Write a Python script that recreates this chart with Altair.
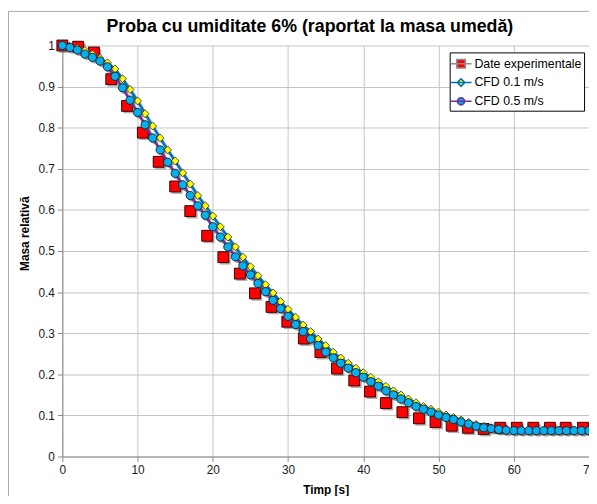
import altair as alt
import pandas as pd

# ---------------- data ----------------
series_names = ["Date experimentale", "CFD 0.1 m/s", "CFD 0.5 m/s"]

t_exp = [0, 2.1, 4.2, 6.5, 8.6, 10.7, 12.8, 15.0, 17.0, 19.25, 21.4, 23.6, 25.6,
         27.8, 29.9, 32.1, 34.3, 36.5, 38.8, 40.9, 43.0, 45.2, 47.4, 49.6, 51.75,
         53.9, 56.0, 58.2, 60.4, 62.6, 64.8, 66.9, 69.2]
v_exp = [1.000, 0.997, 0.983, 0.918, 0.853, 0.788, 0.717, 0.657, 0.597, 0.537,
         0.485, 0.445, 0.397, 0.364, 0.328, 0.287, 0.254, 0.214, 0.185, 0.158,
         0.130, 0.108, 0.093, 0.084, 0.075, 0.070, 0.067, 0.070, 0.070, 0.070,
         0.070, 0.070, 0.070]

t_cfd = [0, 1, 2, 3, 4, 5, 6, 7, 8, 9, 10, 11, 12, 13, 14, 15, 16, 17, 18, 19,
         20, 21, 22, 23, 24, 25, 26, 27, 28, 29, 30, 31, 32, 33, 34, 35, 36, 37,
         38, 39, 40, 41, 42, 43, 44, 45, 46, 47, 48, 49, 50, 51, 52, 53, 54, 55,
         56, 57, 58, 59, 60, 61, 62, 63, 64, 65, 66, 67, 68, 69, 70]
v_cfd01 = [1.000, 0.998, 0.994, 0.988, 0.979, 0.969, 0.958, 0.943, 0.919, 0.893,
           0.865, 0.834, 0.804, 0.775, 0.746, 0.719, 0.690, 0.663, 0.635, 0.610,
           0.585, 0.559, 0.534, 0.510, 0.485, 0.462, 0.440, 0.418, 0.398, 0.377,
           0.358, 0.339, 0.320, 0.304, 0.286, 0.270, 0.254, 0.240, 0.227, 0.215,
           0.204, 0.193, 0.182, 0.171, 0.160, 0.150, 0.140, 0.131, 0.122, 0.115,
           0.108, 0.101, 0.095, 0.089, 0.083, 0.078, 0.074, 0.070, 0.068, 0.066,
           0.064, 0.063, 0.063, 0.063, 0.063, 0.063, 0.063, 0.063, 0.063, 0.063,
           0.063]
v_cfd05 = [1.000, 0.995, 0.989, 0.979, 0.971, 0.962, 0.948, 0.925, 0.897, 0.867,
           0.837, 0.807, 0.775, 0.746, 0.716, 0.689, 0.661, 0.635, 0.610, 0.587,
           0.559, 0.534, 0.510, 0.486, 0.464, 0.442, 0.421, 0.401, 0.380, 0.360,
           0.341, 0.321, 0.304, 0.286, 0.270, 0.254, 0.240, 0.227, 0.215, 0.204,
           0.193, 0.182, 0.171, 0.160, 0.150, 0.140, 0.131, 0.122, 0.115, 0.108,
           0.101, 0.095, 0.090, 0.084, 0.079, 0.074, 0.070, 0.068, 0.066, 0.064,
           0.063, 0.063, 0.063, 0.063, 0.063, 0.063, 0.063, 0.063, 0.063, 0.063,
           0.063]

x_ticks = [0, 10, 20, 30, 40, 50, 60, 70]
y_ticks = [0, 0.1, 0.2, 0.3, 0.4, 0.5, 0.6, 0.7, 0.8, 0.9, 1]

title_text = "Proba cu umiditate 6% (raportat la masa umedă)"
x_title = "Timp [s]"
y_title = "Masa relativă"

# ---------------- styling ----------------
FONT = "Liberation Sans"
line_colors = ["#8c8c8c", "#0070c0", "#7030a0"]
marker_colors = ["#ff0000", "#ffff00", "#00b0f0"]
legend_paths = [
    "M-1.25,0L1.25,0M-0.5,-0.5L0.5,-0.5L0.5,0.5L-0.5,0.5Z",
    "M-1.25,0L1.25,0M0,-0.45L0.45,0L0,0.45L-0.45,0Z",
    "M-1.25,0L1.25,0M-0.42,0A0.42,0.42,0,1,1,0.42,0A0.42,0.42,0,1,1,-0.42,0Z",
]

df_exp = pd.DataFrame({"t": t_exp, "v": v_exp})
df_01 = pd.DataFrame({"t": t_cfd, "v": v_cfd01})
df_05 = pd.DataFrame({"t": t_cfd, "v": v_cfd05})
df_leg = pd.DataFrame({"s": series_names, "t": [-100, -100, -100], "v": [0.5, 0.5, 0.5]})
df_frame = pd.DataFrame({"a": [0]})

x_axis = alt.Axis(values=x_ticks, title=x_title, grid=True, gridColor="#c4c4c4",
                  domainColor="#8a8a8a", tickColor="#8a8a8a", tickSize=5,
                  labelFont=FONT, labelFontSize=12, labelColor="#1a1a1a",
                  labelPadding=3, labelFlush=False, labelOverlap=False,
                  titleFont=FONT, titleFontSize=12, titleFontWeight="bold",
                  titleColor="black", titlePadding=9)
y_axis = alt.Axis(values=y_ticks, title=y_title, format="~g", grid=True,
                  gridColor="#c4c4c4", domainColor="#8a8a8a", tickColor="#8a8a8a",
                  tickSize=5, labelFont=FONT, labelFontSize=12, labelColor="#1a1a1a",
                  labelPadding=3, labelFlush=False, labelOverlap=False,
                  titleFont=FONT, titleFontSize=12, titleFontWeight="bold",
                  titleColor="black", titleX=-31, titleY=190)

X = alt.X("t:Q", scale=alt.Scale(domain=[0, 70], nice=False, zero=False), axis=x_axis)
Y = alt.Y("v:Q", scale=alt.Scale(domain=[0, 1], nice=False), axis=y_axis)

frame = alt.Chart(df_frame).mark_rect(fillOpacity=0, stroke="#a8a8a8", strokeWidth=1).encode(
    x=alt.value(-54.5), x2=alt.value(600), y=alt.value(-34.5), y2=alt.value(470))

def line_shadow(df):
    return alt.Chart(df).mark_line(color="#9a9a9a", strokeWidth=4, opacity=0.55,
                                   xOffset=2, yOffset=3).encode(x=X, y=Y)

def point_shadow(df, shape, size):
    return alt.Chart(df).mark_point(shape=shape, filled=True, color="#555555",
                                    opacity=0.45, size=size, xOffset=2,
                                    yOffset=2).encode(x=X, y=Y)

sh_l01 = line_shadow(df_01)
sh_l05 = line_shadow(df_05)
sh_exp = point_shadow(df_exp, "square", 121)
sh_05 = point_shadow(df_05, "circle", 70)

exp_pts = alt.Chart(df_exp).mark_point(shape="square", filled=True, fill=marker_colors[0],
                                       stroke="#3a0000", strokeWidth=1, size=121,
                                       opacity=1).encode(x=X, y=Y)
line01 = alt.Chart(df_01).mark_line(color=line_colors[1], strokeWidth=2.5).encode(x=X, y=Y)
pts01 = alt.Chart(df_01).mark_point(shape="diamond", filled=True, fill=marker_colors[1],
                                    stroke="#262626", strokeWidth=0.8, size=64,
                                    opacity=1).encode(x=X, y=Y)
line05 = alt.Chart(df_05).mark_line(color=line_colors[2], strokeWidth=2.5).encode(x=X, y=Y)
pts05 = alt.Chart(df_05).mark_point(shape="circle", filled=True, fill=marker_colors[2],
                                    stroke="#1a1a1a", strokeWidth=0.9, size=70,
                                    opacity=1).encode(x=X, y=Y)

legend = alt.Legend(title=None, orient="none", legendX=392, legendY=7,
                    fillColor="white", strokeColor="black", padding=2,
                    labelFont=FONT, labelFontSize=12.5, labelColor="black",
                    labelOffset=4, symbolSize=289, symbolStrokeWidth=1.6,
                    rowPadding=2)
leg = alt.Chart(df_leg).mark_point(filled=True, size=289, strokeWidth=1.6, opacity=1,
                                   clip=True).encode(
    x=X, y=Y,
    stroke=alt.Stroke("s:N", scale=alt.Scale(domain=series_names, range=line_colors),
                      legend=legend),
    fill=alt.Fill("s:N", scale=alt.Scale(domain=series_names, range=marker_colors),
                  legend=legend),
    shape=alt.Shape("s:N", scale=alt.Scale(domain=series_names, range=legend_paths),
                    legend=legend),
)

chart = alt.layer(
    frame, sh_l01, sh_l05, sh_exp, exp_pts, line01, pts01, sh_05, line05, pts05, leg
).properties(
    width=533, height=416,
    title=alt.TitleParams(title_text, font=FONT, fontSize=18, fontWeight="bold",
                          color="black", anchor="middle", dx=-16, dy=25, offset=0),
    autosize=alt.AutoSizeParams(type="none"),
    padding={"left": 55, "top": 35, "right": 0, "bottom": 37},
).configure_view(strokeWidth=0)

chart.save("out.html", embed_options={"renderer": "svg", "actions": False})
